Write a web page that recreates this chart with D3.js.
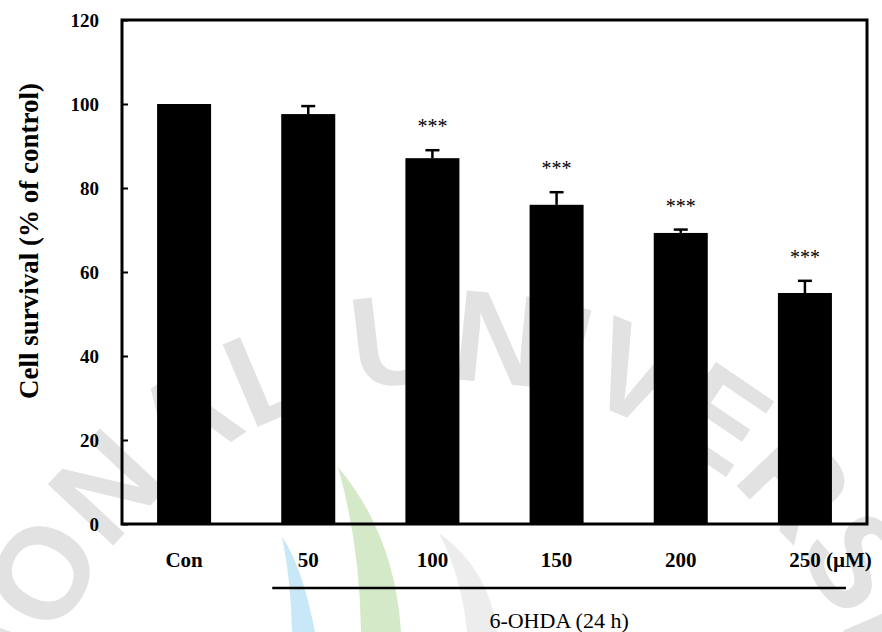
<!DOCTYPE html>
<html>
<head>
<meta charset="utf-8">
<title>Cell survival - 6-OHDA</title>
<script src="https://d3js.org/d3.v7.min.js"></script>
<style>
  body { margin: 0; background: #fff; }
  .tick-label { font-family: "Liberation Serif", "Times New Roman", serif; font-weight: bold; font-size: 19px; fill: #000; }
  .cat-label { font-family: "Liberation Serif", "Times New Roman", serif; font-weight: bold; font-size: 21px; fill: #000; }
  .axis-title { font-family: "Liberation Serif", "Times New Roman", serif; font-weight: bold; font-size: 27px; fill: #000; }
  .group-label { font-family: "Liberation Serif", "Times New Roman", serif; font-size: 22px; fill: #000; }
  .stars { font-family: "Liberation Serif", "Times New Roman", serif; font-size: 20px; fill: #000; }
</style>
</head>
<body>
<div id="chart"></div>
<script>
// data
var categories = ["Con", "50", "100", "150", "200", "250"];
var survival = [100, 97.6, 87.1, 76.0, 69.3, 55.0];
var errorUp = [0, 1.9, 1.9, 3.0, 0.8, 2.9];
var significance = ["", "", "***", "***", "***", "***"];
var yTicks = [0, 20, 40, 60, 80, 100, 120];
var unitLabel = "(\u00b5M)";
var groupLabel = "6-OHDA (24 h)";
var yTitle = "Cell survival (% of control)";

var W = 882, H = 632;
var margin = {top: 20, right: 15, bottom: 108, left: 122};
var width = W - margin.left - margin.right,
    height = H - margin.top - margin.bottom;

var svg = d3.select("#chart").append("svg")
  .attr("width", W)
  .attr("height", H);

// faint watermark behind the chart (curved university name + logo strokes)
var wm = svg.append("g").attr("class", "watermark");
var cx = 453, cy = 810, r = 429;
function pt(a) { var t = a * Math.PI / 180; return [cx + r * Math.cos(t), cy - r * Math.sin(t)]; }
var p0 = pt(200), p1 = pt(-20);
wm.append("path")
  .attr("id", "wmArc")
  .attr("d", "M" + p0[0] + "," + p0[1] + " A" + r + "," + r + " 0 1 1 " + p1[0] + "," + p1[1])
  .attr("fill", "none");
wm.append("text")
  .style("font-family", "Liberation Sans, Arial, sans-serif")
  .style("font-weight", "bold")
  .style("font-size", "130px")
  .style("fill", "#e2e2e2")
  .append("textPath")
  .attr("href", "#wmArc")
  .attr("startOffset", 30)
  .text("NATIONAL UNIVERSITY");
wm.append("path")
  .attr("d", "M282,537 Q302,565 315,632 L292,632 Q291,580 282,537 Z")
  .attr("fill", "#c8e7f7");
wm.append("path")
  .attr("d", "M338,467 Q395,535 401,632 L361,632 Q360,545 338,467 Z")
  .attr("fill", "#d4e9c8");
wm.append("path")
  .attr("d", "M439,533 Q490,570 497,632 L467,632 Q462,578 439,533 Z")
  .attr("fill", "#ededed");

var g = svg.append("g")
  .attr("transform", "translate(" + margin.left + "," + margin.top + ")");

var x = d3.scaleBand()
  .domain(categories)
  .range([0, width])
  .paddingInner(0.565)
  .paddingOuter(0.2825);

var y = d3.scaleLinear()
  .domain([0, 120])
  .range([height, 0]);

// bars
g.selectAll(".bar")
  .data(categories)
  .enter().append("rect")
  .attr("class", "bar")
  .attr("x", function(d) { return x(d); })
  .attr("width", x.bandwidth())
  .attr("y", function(d, i) { return y(survival[i]); })
  .attr("height", function(d, i) { return height - y(survival[i]); })
  .style("fill", "#000");

// error bars (upper only)
var eb = g.selectAll(".err")
  .data(categories.filter(function(d, i) { return errorUp[i] > 0; }))
  .enter().append("g").attr("class", "err");
eb.append("line")
  .attr("x1", function(d) { return x(d) + x.bandwidth() / 2; })
  .attr("x2", function(d) { return x(d) + x.bandwidth() / 2; })
  .attr("y1", function(d) { var i = categories.indexOf(d); return y(survival[i]); })
  .attr("y2", function(d) { var i = categories.indexOf(d); return y(survival[i] + errorUp[i]); })
  .style("stroke", "#000").style("stroke-width", 2.5);
eb.append("line")
  .attr("x1", function(d) { return x(d) + x.bandwidth() / 2 - 7; })
  .attr("x2", function(d) { return x(d) + x.bandwidth() / 2 + 7; })
  .attr("y1", function(d) { var i = categories.indexOf(d); return y(survival[i] + errorUp[i]); })
  .attr("y2", function(d) { var i = categories.indexOf(d); return y(survival[i] + errorUp[i]); })
  .style("stroke", "#000").style("stroke-width", 2.5);

// significance stars
g.selectAll(".stars")
  .data(categories)
  .enter().append("text")
  .attr("class", "stars")
  .attr("text-anchor", "middle")
  .attr("x", function(d) { return x(d) + x.bandwidth() / 2; })
  .attr("y", function(d, i) { return y(survival[i] + errorUp[i]) - 17; })
  .text(function(d, i) { return significance[i]; });

// frame
g.append("rect")
  .attr("x", 0).attr("y", 0)
  .attr("width", width).attr("height", height)
  .style("fill", "none")
  .style("stroke", "#000")
  .style("stroke-width", 3);

// y axis, ticks pointing inward
var yAxis = g.append("g")
  .call(d3.axisLeft(y).tickValues(yTicks).tickSize(-6).tickPadding(23));
yAxis.select(".domain").remove();
yAxis.selectAll(".tick line").style("stroke", "#000").style("stroke-width", 2);
yAxis.selectAll(".tick text").attr("class", "tick-label").attr("font-size", null).attr("font-family", null);

// category labels
g.selectAll(".cat-label")
  .data(categories)
  .enter().append("text")
  .attr("class", "cat-label")
  .attr("text-anchor", "middle")
  .attr("x", function(d) { return x(d) + x.bandwidth() / 2; })
  .attr("y", height + 43)
  .text(function(d) { return d; });

var last = categories[categories.length - 1];
g.append("text")
  .attr("class", "cat-label")
  .attr("x", x(last) + x.bandwidth() / 2 + 21)
  .attr("y", height + 43)
  .text(unitLabel);

// treatment bracket
var bx0 = x(categories[1]) - 9,
    bx1 = x(last) + x.bandwidth() + 14;
g.append("line")
  .attr("x1", bx0).attr("x2", bx1)
  .attr("y1", height + 64).attr("y2", height + 64)
  .style("stroke", "#000").style("stroke-width", 2.5);
g.append("text")
  .attr("class", "group-label")
  .attr("text-anchor", "middle")
  .attr("x", (bx0 + bx1) / 2)
  .attr("y", height + 104)
  .text(groupLabel);

// y axis title
g.append("text")
  .attr("class", "axis-title")
  .attr("text-anchor", "middle")
  .attr("transform", "translate(" + (-margin.left + 38) + "," + y(67.4) + ") rotate(-90)")
  .text(yTitle);
</script>
</body>
</html>
